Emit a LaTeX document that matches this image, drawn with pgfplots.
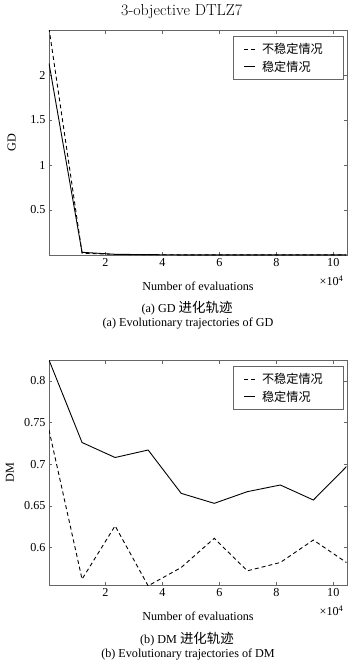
\documentclass[border=0pt]{standalone}
\usepackage{fontspec}
\usepackage{pgfplots}
\pgfplotsset{compat=1.18}
\setmainfont{Liberation Serif}
\newfontfamily\cjk{Noto Sans CJK SC}
\newfontfamily\lmr{Latin Modern Roman}
\newcommand\fs{\fontsize{12.2}{14}\selectfont}
\newcommand\cfs{\cjk\fontsize{12.2}{14}\selectfont}
\newcommand\capfs{\cjk\fontsize{13.5}{15}\selectfont}

\pgfplotstableread{
x gdu gds dmu dms
0.02 2.52 2.13 0.741 0.825
1.18 0.020 0.030 0.562 0.726
2.34 0.006 0.008 0.626 0.708
3.50 0.003 0.004 0.554 0.717
4.66 0.002 0.002 0.576 0.665
5.82 0.001 0.001 0.611 0.653
6.98 0.001 0.001 0.572 0.667
8.14 0.001 0.001 0.582 0.675
9.30 0.001 0.001 0.609 0.657
10.46 0.001 0.001 0.582 0.697
}\datatab

\pgfplotsset{
 mystyle/.style={
  scale only axis, width=298bp, height=225bp,
  axis line style={draw=black!60, line width=0.6pt},
  tick style={draw=black!60, line width=0.5pt},
  tick align=inside, major tick length=3.5bp,
  xmin=0.02, xmax=10.48,
  xtick={2,4,6,8,10},
  tick label style={font=\fs},
  /pgf/number format/assume math mode=true,
  xlabel={Number of evaluations},
  every axis x label/.style={at={(axis description cs:0.5,-0.14)}, anchor=center, font=\fs},
  legend style={at={(rel axis cs:0.987,0.972)}, anchor=north east, draw=black!60, line width=0.6pt, font=\cfs, cells={anchor=west}, inner xsep=4bp, inner ysep=4.5bp, row sep=2bp},
  legend image code/.code={\path[draw=none] (-7bp,0bp) (16bp,0bp); \draw[##1, line width=0.9pt] (0bp,0bp) -- (11bp,0bp);},
  every axis plot/.append style={line width=0.9pt, black, no markers},
 },
}

\begin{document}
\begin{tikzpicture}
\path[use as bounding box] (0,0) rectangle (361bp,-665bp);
\node[font=\lmr\fontsize{16}{18}\selectfont] at (181.7bp,-12bp) {3-objective DTLZ7};

\begin{axis}[mystyle, name=gd, at={(49bp,-30bp)}, anchor=north west,
  ymin=0, ymax=2.5, ytick={0.5,1,1.5,2}, yticklabels={0.5,1,1.5,2},
  ylabel={GD},
  every axis y label/.style={at={(axis description cs:-0.125,0.5)}, rotate=90, anchor=center, font=\fs}]
\addplot[black, dash pattern=on 4bp off 3bp] table[x=x, y=gdu] {\datatab};
\addlegendentry{不稳定情况\hspace*{14bp}}
\addplot[black, solid] table[x=x, y=gds] {\datatab};
\addlegendentry{稳定情况}
\end{axis}
\node[anchor=east, font=\fs] at ([yshift=-26bp]gd.south east) {×10\textsuperscript{4}};
\node[font=\fs] at (187bp,-308bp) {(a) GD {\capfs 进化轨迹}};
\node[font=\fs] at (188bp,-324bp) {(a) Evolutionary trajectories of GD};

\begin{axis}[mystyle, name=dm, at={(49bp,-360bp)}, anchor=north west,
  ymin=0.555, ymax=0.825, ytick={0.6,0.65,0.7,0.75,0.8}, yticklabels={0.6,0.65,0.7,0.75,0.8},
  ylabel={DM},
  every axis y label/.style={at={(axis description cs:-0.131,0.5)}, rotate=90, anchor=center, font=\fs}]
\addplot[black, dash pattern=on 4bp off 3bp] table[x=x, y=dmu] {\datatab};
\addlegendentry{不稳定情况\hspace*{14bp}}
\addplot[black, solid] table[x=x, y=dms] {\datatab};
\addlegendentry{稳定情况}
\end{axis}
\node[anchor=east, font=\fs] at ([yshift=-26bp]dm.south east) {×10\textsuperscript{4}};
\node[font=\fs] at (187bp,-639bp) {(b) DM {\capfs 进化轨迹}};
\node[font=\fs] at (188bp,-655bp) {(b) Evolutionary trajectories of DM};
\end{tikzpicture}
\end{document}
